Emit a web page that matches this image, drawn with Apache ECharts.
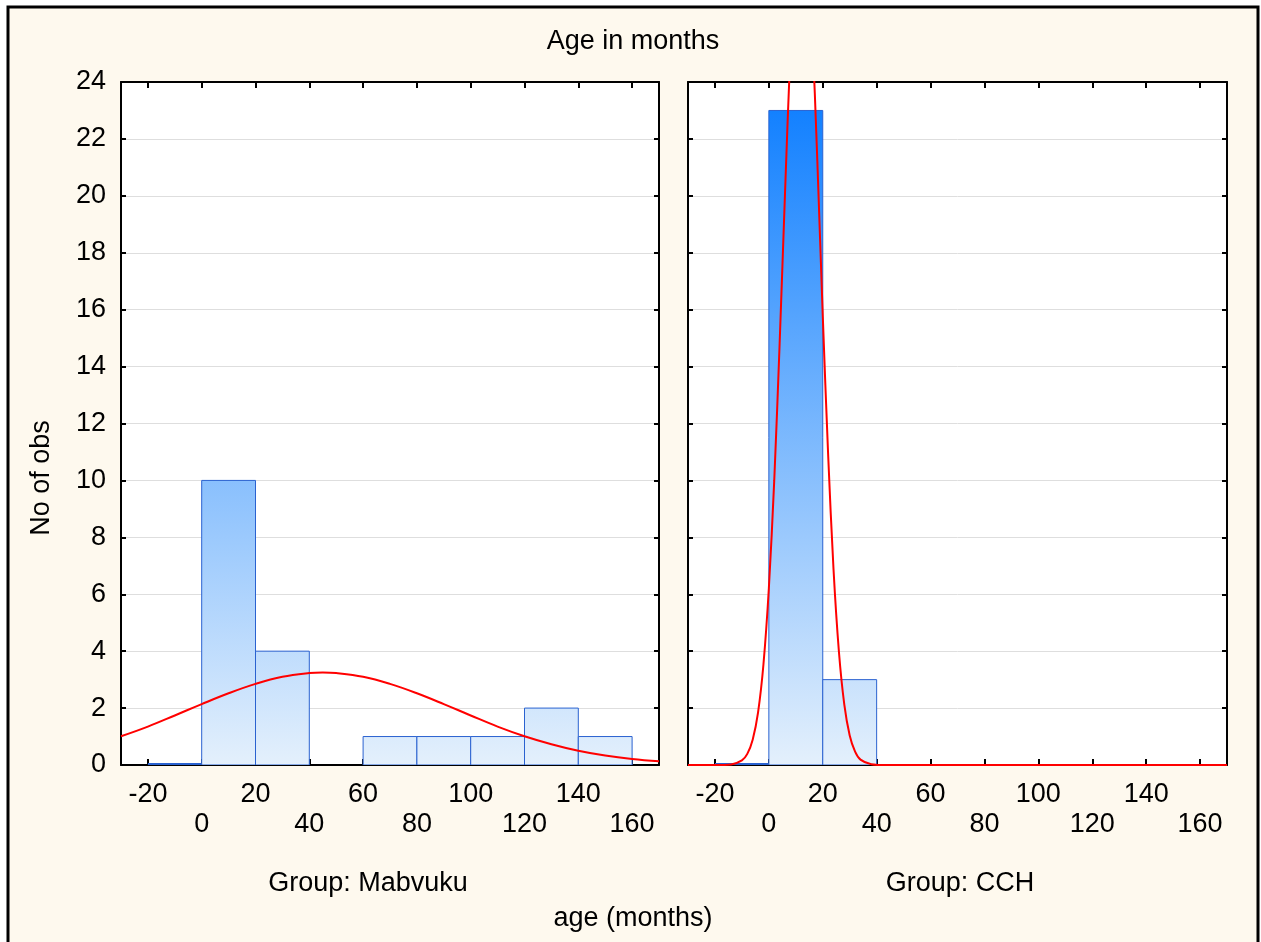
<!DOCTYPE html>
<html><head><meta charset="utf-8">
<script src="https://cdn.jsdelivr.net/npm/echarts@6/dist/echarts.min.js"></script>
<style>html,body{margin:0;padding:0;background:#fff}#c{width:1261px;height:942px}</style>
</head><body><div id="c"></div><script>
// ---- data ----
const binStarts = [-20, 0, 20, 40, 60, 80, 100, 120, 140];
const binEnds   = [0, 20, 40, 60, 80, 100, 120, 140, 160];
const mabvukuCounts = [0, 10, 4, null, 1, 1, 1, 2, 1];
const cchCounts     = [0, 23, 3, null, null, null, null, null, null];
const xTickValues = [-20, 0, 20, 40, 60, 80, 100, 120, 140, 160];
const mabvukuCurveX = [-30,-20,-10,0,10,20,30,40,45,50,60,70,80,90,100,110,120,130,140,150,160,170];
const mabvukuCurveY = [1.01,1.35,1.74,2.14,2.52,2.85,3.10,3.23,3.25,3.23,3.10,2.85,2.52,2.14,1.74,1.35,1.01,0.73,0.50,0.33,0.21,0.13];
const cchCurveX = [-30,-20,-14,-10,-8,-6,-4,-2,0,2,4,6,8,10,12,14,16,18,20,22,24,26,28,30,32,34,38,44,60,100,140,170];
const cchCurveY = [0,0,0.02,0.16,0.39,0.89,1.85,3.54,6.21,10.0,14.8,20.1,25.1,28.8,30.3,29.3,26.0,21.2,15.8,10.9,6.87,3.98,2.12,1.04,0.47,0.19,0.03,0,0,0,0,0];
const groupNames = ['Group: Mabvuku', 'Group: CCH'];
const titleText = 'Age in months';
const yName = 'No of obs';
const xName = 'age (months)';

// ---- styling ----
const FONT = 'Liberation Sans, Arial, sans-serif';
const FS = 27;
const barBorder = '#2a62d0';
const gradBottom = '#e4f0fc';
const gradTop = '#0a7cff';

function bins(counts) {
  const out = [];
  counts.forEach((c, i) => { if (c !== null) out.push([binStarts[i], binEnds[i], c]); });
  return out;
}
function zip(xs, ys) { return xs.map((x, i) => [x, ys[i]]); }

function renderBars(params, api) {
  const s = api.value(0), e = api.value(1), c = api.value(2);
  const p0 = api.coord([s, 0]), p1 = api.coord([e, c]);
  const yb = api.coord([0, 0])[1], yt = api.coord([0, 24])[1];
  if (c === 0) {
    return { type: 'line', shape: { x1: p0[0], y1: p0[1] - 1, x2: p1[0], y2: p0[1] - 1 },
      style: { stroke: barBorder, lineWidth: 2 } };
  }
  return {
    type: 'rect',
    shape: { x: p0[0], y: p1[1], width: p1[0] - p0[0], height: p0[1] - p1[1] },
    style: {
      fill: new echarts.graphic.LinearGradient(0, yb, 0, yt, [
        { offset: 0, color: gradBottom }, { offset: 1, color: gradTop }], true),
      stroke: barBorder, lineWidth: 1
    }
  };
}

const axisLineStyle = { show: true, onZero: false, lineStyle: { color: '#000', width: 2 } };
const tickStyle = { color: '#000', width: 2 };

function xAxes(gi) {
  return [
    { gridIndex: gi, type: 'value', min: -30, max: 170, position: 'bottom',
      axisLine: axisLineStyle,
      axisTick: { show: true, inside: true, length: 6, customValues: xTickValues, lineStyle: tickStyle },
      axisLabel: { show: true, customValues: xTickValues, margin: 15, fontSize: FS, fontFamily: FONT, color: '#000', lineHeight: 30,
        formatter: v => (xTickValues.indexOf(v) % 2 === 0 ? String(v) : '\n' + v) },
      splitLine: { show: false } },
    { gridIndex: gi, type: 'value', min: -30, max: 170, position: 'top',
      axisLine: axisLineStyle,
      axisTick: { show: true, inside: true, length: 6, customValues: xTickValues, lineStyle: tickStyle },
      axisLabel: { show: false }, splitLine: { show: false } }
  ];
}
function yAxes(gi, showLabels) {
  return [
    { gridIndex: gi, type: 'value', min: 0, max: 24, interval: 2, position: 'left',
      axisLine: axisLineStyle,
      axisTick: { show: true, inside: true, length: 5, lineStyle: tickStyle },
      axisLabel: { show: showLabels, margin: 15, fontSize: FS, fontFamily: FONT, color: '#000' },
      splitLine: { show: true, lineStyle: { color: '#dedede', width: 1 } } },
    { gridIndex: gi, type: 'value', min: 0, max: 24, interval: 2, position: 'right',
      axisLine: axisLineStyle,
      axisTick: { show: true, inside: true, length: 5, lineStyle: tickStyle },
      axisLabel: { show: false }, splitLine: { show: false } }
  ];
}

function txt(text, x, y, rot) {
  return { type: 'text', x: x, y: y, rotation: rot || 0, z: 100,
    style: { text: text, fill: '#000', font: FS + 'px ' + FONT, align: 'center', verticalAlign: 'middle' } };
}

const chart = echarts.init(document.getElementById('c'), null, { renderer: 'canvas' });
chart.setOption({
  backgroundColor: '#fff',
  animation: false,
  graphic: [
    { type: 'rect', z: -100, silent: true, shape: { x: 8, y: 7, width: 1250, height: 1000 },
      style: { fill: '#fef9ee', stroke: '#000', lineWidth: 3 } },
    txt(titleText, 633, 42),
    txt(yName, 42, 478, Math.PI / 2),
    txt(groupNames[0], 368, 884),
    txt(groupNames[1], 960, 884),
    txt(xName, 633, 919)
  ],
  grid: [
    { left: 121, top: 82, width: 538, height: 683, show: true, backgroundColor: '#fff', borderWidth: 0 },
    { left: 688, top: 82, width: 539, height: 683, show: true, backgroundColor: '#fff', borderWidth: 0 }
  ],
  xAxis: [...xAxes(0), ...xAxes(1)],
  yAxis: [...yAxes(0, true), ...yAxes(1, false)],
  series: [
    { type: 'custom', xAxisIndex: 0, yAxisIndex: 0, renderItem: renderBars, clip: true,
      encode: { x: [0, 1], y: 2 }, data: bins(mabvukuCounts), z: 2 },
    { type: 'custom', xAxisIndex: 2, yAxisIndex: 2, renderItem: renderBars, clip: true,
      encode: { x: [0, 1], y: 2 }, data: bins(cchCounts), z: 2 },
    { type: 'line', xAxisIndex: 0, yAxisIndex: 0, data: zip(mabvukuCurveX, mabvukuCurveY), smooth: 0.4,
      showSymbol: false, clip: true, lineStyle: { color: '#ff0000', width: 2 }, z: 5 },
    { type: 'line', xAxisIndex: 2, yAxisIndex: 2, data: zip(cchCurveX, cchCurveY), smooth: 0.3,
      showSymbol: false, clip: true, lineStyle: { color: '#ff0000', width: 2 }, z: 5 }
  ]
});
</script></body></html>
